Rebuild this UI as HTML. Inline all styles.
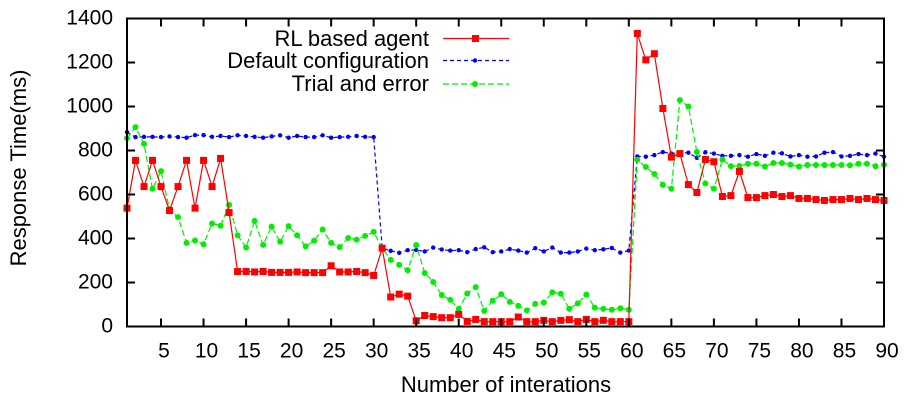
<!DOCTYPE html>
<html><head><meta charset="utf-8"><style>
html,body{margin:0;padding:0;background:#fff;}
svg{display:block;font-family:"Liberation Sans",Arial,sans-serif;}
</style></head><body>
<svg id="chart" width="905" height="400" viewBox="0 0 905 400">
<g id="grid"></g>
<g id="series"></g>
<g id="axes"></g>
<text x="26" y="168" font-size="22" text-anchor="middle" transform="rotate(-90 26 168)">Response Time(ms)</text>
<text x="506" y="392" font-size="22" text-anchor="middle">Number of interations</text>
<g>
 <text x="429" y="46" font-size="22" text-anchor="end">RL based agent</text>
 <line x1="443" y1="38.5" x2="509" y2="38.5" stroke="#f00" stroke-width="1.2"/>
 <rect x="472" y="35" width="7" height="7" fill="#f00"/>
 <text x="429" y="68" font-size="22" text-anchor="end">Default configuration</text>
 <line x1="443" y1="60.5" x2="509" y2="60.5" stroke="#00f" stroke-width="1.2" stroke-dasharray="4,3"/>
 <circle cx="475" cy="60.5" r="2.2" fill="#00f"/>
 <text x="429" y="91" font-size="22" text-anchor="end">Trial and error</text>
 <line x1="443" y1="84" x2="509" y2="84" stroke="#0e0" stroke-width="1.2" stroke-dasharray="6,3"/>
 <circle cx="475" cy="84" r="3" fill="#0e0"/>
</g>
</svg>
<script>
const xTicks=[5,10,15,20,25,30,35,40,45,50,55,60,65,70,75,80,85,90];
const yTicks=[0,200,400,600,800,1000,1200,1400];
const rlValues=[538,755,636,755,636,527,636,755,538,755,636,764,518,250,250,248,250,246,246,246,248,245,245,245,276,248,248,250,245,232,356,134,147,138,26,50,45,40,40,55,23,32,22,22,22,22,43,22,22,28,22,28,31,22,32,22,28,22,22,22,1332,1212,1240,991,770,786,645,609,759,749,591,595,705,586,586,595,600,591,595,582,582,577,573,577,577,582,577,582,577,573];
const defaultValues=[883,861,862,862,861,864,861,858,870,870,862,866,861,869,866,862,858,864,869,858,866,861,861,869,858,861,862,866,862,861,356,344,335,347,348,341,359,350,345,347,338,352,360,338,341,352,345,336,356,341,359,336,336,341,354,347,351,357,336,345,773,772,779,793,786,790,790,767,792,786,776,776,779,772,784,776,790,787,773,779,772,773,790,793,773,776,784,779,786,772];
const trialValues=[856,906,830,626,706,534,497,380,391,374,468,458,553,414,359,480,371,454,385,456,415,364,390,441,380,361,402,395,412,430,356,303,280,256,370,243,202,143,121,80,150,179,71,117,147,112,94,73,103,109,155,149,80,105,145,86,80,76,83,76,758,725,693,644,626,1029,1000,793,650,626,759,729,730,740,740,727,743,743,736,727,734,734,734,734,734,733,740,740,729,736];
const NS="http://www.w3.org/2000/svg";
const L=127,R=884,T=18.5,B=326.5,X0=1,X1=90,Y0=0,Y1=1400;
function xs(v){return L+(v-X0)*(R-L)/(X1-X0);}
function ys(v){return B-(v-Y0)*(B-T)/(Y1-Y0);}
function mk(tag,attrs,parent){const e=document.createElementNS(NS,tag);for(const k in attrs)e.setAttribute(k,attrs[k]);parent.appendChild(e);return e;}
const axes=document.getElementById('axes'),ser=document.getElementById('series');
const frame=mk('rect',{x:L,y:T,width:R-L,height:B-T,fill:'none',stroke:'#000','stroke-width':2},axes);


yTicks.forEach(v=>{
 const y=ys(v);
 if(v>0&&v<1400){
  const t1=mk('line',{x1:L,y1:y,x2:L+8,y2:y,stroke:'#000','stroke-width':2},axes);
  
  
  const t2=mk('line',{x1:R,y1:y,x2:R-8,y2:y,stroke:'#000','stroke-width':2},axes);
  
  
 }
 const lb=mk('text',{x:L-14,y:y+6,'font-size':21,'text-anchor':'end'},axes);
 lb.textContent=v;
 
 
});
xTicks.forEach(v=>{
 const x=xs(v);
 if(v<90){
  const t1=mk('line',{x1:x,y1:B,x2:x,y2:B-8,stroke:'#000','stroke-width':2},axes);
  
  
  const t2=mk('line',{x1:x,y1:T,x2:x,y2:T+8,stroke:'#000','stroke-width':2},axes);
  
  
 }
 const lb=mk('text',{x:x+3,y:B+31,'font-size':21,'text-anchor':'middle'},axes);
 lb.textContent=v;
 
 
});
function drawSeries(vals,color,dash,marker,name){
 const pts=vals.map((v,i)=>xs(i+1).toFixed(1)+','+ys(v).toFixed(1)).join(' ');
 const pl=mk('polyline',{points:pts,fill:'none',stroke:color,'stroke-width':1.2,'stroke-dasharray':dash},ser);
 
 
 vals.forEach((v,i)=>{
  const x=xs(i+1),y=ys(v);let m;
  if(marker==='square')m=mk('rect',{x:x-3.5,y:y-3.5,width:7,height:7,fill:color},ser);
  else m=mk('circle',{cx:x,cy:y,r:marker==='small'?2.2:3,fill:color},ser);
  
  
 });
}
drawSeries(defaultValues,'#00f','4,3','small','default-configuration');
drawSeries(trialValues,'#0e0','6,3','dot','trial-and-error');
drawSeries(rlValues,'#f00','none','square','rl-agent');
</script>
</body></html>
